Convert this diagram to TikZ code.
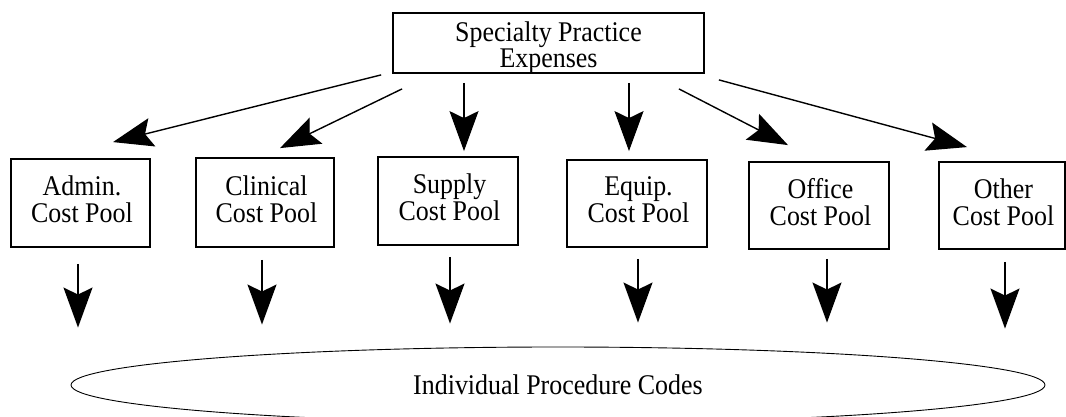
\documentclass[tikz,border=0pt]{standalone}
\usepackage{fontspec}
\setmainfont{Liberation Serif}[FakeStretch=0.91]
\usetikzlibrary{arrows.meta,shapes.geometric,calc}
\begin{document}
\begin{tikzpicture}[x=1pt,y=1pt,
  box/.style={draw,line width=1.8pt,rectangle,inner sep=0pt},
  toptxt/.style={align=center,inner sep=0pt,yshift=-5pt,
    font=\fontsize{28.5}{23}\selectfont},
  pooltxt/.style={align=center,inner sep=0pt,yshift=3.5pt,xshift=1.5pt,
    font=\fontsize{28.5}{27}\selectfont},
  arr/.style={line width=1.4pt,-{Stealth[length=40pt,width=29pt,inset=7pt]}},
  codes/.style={draw,line width=0.9pt,ellipse,inner sep=0pt,
    font=\fontsize{28.5}{27}\selectfont}]
\useasboundingbox (0,0) rectangle (1066,417);

% source of all expenses
\node[box,minimum width=311pt,minimum height=60pt,
  label={[toptxt]center:{Specialty Practice\\Expenses}}] (top) at (548.5,374) {};

% cost pools
\node[box,minimum width=139pt,minimum height=88pt,
  label={[pooltxt]center:{Admin.\\Cost Pool}}]   (admin)    at (80.5,214)   {};
\node[box,minimum width=138pt,minimum height=89pt,
  label={[pooltxt]center:{Clinical\\Cost Pool}}] (clinical) at (265,214.5)  {};
\node[box,minimum width=140pt,minimum height=88pt,
  label={[pooltxt]center:{Supply\\Cost Pool}}]   (supply)   at (448,216)    {};
\node[box,minimum width=140pt,minimum height=87pt,
  label={[pooltxt]center:{Equip.\\Cost Pool}}]   (equip)    at (637,213.5)  {};
\node[box,minimum width=140pt,minimum height=87pt,
  label={[pooltxt]center:{Office\\Cost Pool}}]   (office)   at (819,211.5)  {};
\node[box,minimum width=126pt,minimum height=87pt,
  label={[pooltxt]center:{Other\\Cost Pool}}]    (other)    at (1002,211.5) {};

% procedure codes
\node[codes,minimum width=974pt,minimum height=76pt] (proc) at (558,32)
  {Individual Procedure Codes};

% expenses into pools
\draw[arr] ($(top.south west)+(-11,-1)$) -- ($(admin.north)+(32.5,16)$);
\draw[arr] ($(top.south west)+(10,-15)$) -- ($(clinical.north)+(15,9)$);
\draw[arr] ($(top.south)+(-84.5,-9)$)    -- ($(supply.north)+(16,5)$);
\draw[arr] ($(top.south)+(80.5,-9)$)     -- ($(equip.north)+(-8,8)$);
\draw[arr] ($(top.south east)+(-26,-15)$) -- ($(office.north)+(-31,16)$);
\draw[arr] ($(top.south east)+(14,-6)$)  -- ($(other.north)+(-35,14)$);

% pools into procedure codes
\draw[arr] ($(admin.south)+(-2.5,-16)$)  -- ($(admin.south |- proc.north)+(-2.5,19)$);
\draw[arr] ($(clinical.south)+(-3,-12)$) -- ($(clinical.south |- proc.north)+(-3,22)$);
\draw[arr] ($(supply.south)+(2,-11)$)    -- ($(supply.south |- proc.north)+(2,23)$);
\draw[arr] ($(equip.south)+(1,-11)$)     -- ($(equip.south |- proc.north)+(1,24)$);
\draw[arr] ($(office.south)+(8,-9)$)     -- ($(office.south |- proc.north)+(8,24)$);
\draw[arr] ($(other.south)+(3,-12)$)     -- ($(other.south |- proc.north)+(3,18)$);
\end{tikzpicture}
\end{document}
